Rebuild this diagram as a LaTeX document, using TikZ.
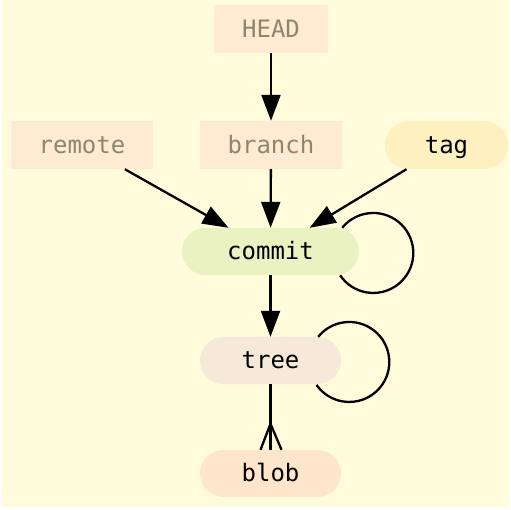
\documentclass[tikz,border=0pt]{standalone}
\usepackage{fontspec}
\setmonofont{DejaVu Sans Mono}
\usetikzlibrary{arrows.meta}
\definecolor{bgc}{HTML}{FFFBDB}
\definecolor{refc}{HTML}{FFEBD1}
\definecolor{tagc}{HTML}{FFF0BF}
\definecolor{commitc}{HTML}{E9F2C0}
\definecolor{treec}{HTML}{F7E9D9}
\definecolor{blobc}{HTML}{FFE5CA}
\definecolor{greytext}{HTML}{8C8672}
\begin{document}
\begin{tikzpicture}[x=1pt,y=1pt,
  every node/.style={font=\ttfamily\fontsize{24}{28}\selectfont, inner sep=0pt, minimum height=48pt, text height=22pt, text depth=5.4pt},
  refbox/.style={rectangle, fill=refc, text=greytext},
  objbox/.style={rectangle, rounded corners=23.5pt, text=black},
  conn/.style={line width=2.3pt, -{Triangle[length=26pt,width=19pt]}},
  plain/.style={line width=2.3pt}]
\useasboundingbox (0,0) rectangle (511,-510);
\fill[white] (0,0) rectangle (511,-510);
\fill[bgc] (2,0) rectangle (509,-507);
\node[refbox, minimum width=114pt] (head) at (271,-29) {HEAD};
\node[refbox, minimum width=142pt] (remote) at (82,-145) {remote};
\node[refbox, minimum width=142pt] (branch) at (271,-145) {branch};
\node[objbox, fill=tagc, minimum width=123pt] (tag) at (446.5,-145) {tag};
\node[objbox, fill=commitc, minimum width=177pt, minimum height=47pt] (commit) at (270.5,-251.5) {commit};
\node[objbox, fill=treec, minimum width=141pt, minimum height=47pt] (tree) at (270.5,-360.5) {tree};
\node[objbox, fill=blobc, minimum width=141pt, minimum height=47pt] (blob) at (270.5,-473.5) {blob};
\draw[conn] (head) -- (branch);
\draw[conn] (remote) -- (commit);
\draw[conn] (branch) -- (commit);
\draw[conn] (tag) -- (commit);
\draw[conn] (commit) -- (tree);
\draw[plain] ([xshift=-17pt]commit.north east) arc[start angle=141, end angle=-146, radius=40pt];
\draw[plain] ([xshift=-23pt]tree.north east) arc[start angle=141, end angle=-145, radius=40pt];
\draw[plain] (tree) -- (blob);
\coordinate (crow) at ([yshift=26pt]blob.north);
\draw[plain] (crow) -- ([xshift=-10pt]blob.north);
\draw[plain] (crow) -- ([xshift=11pt]blob.north);
\end{tikzpicture}
\end{document}
